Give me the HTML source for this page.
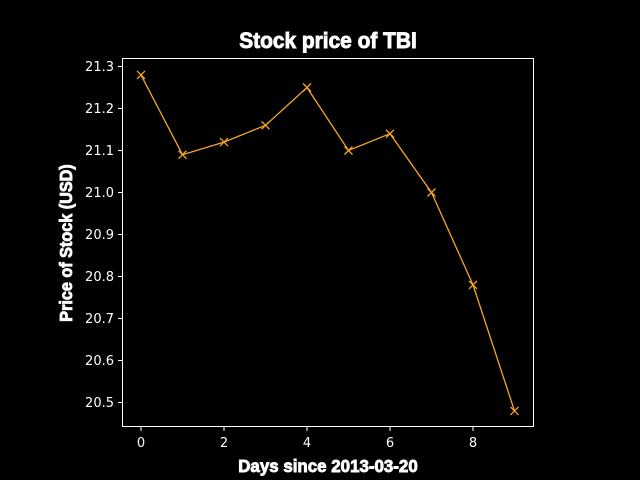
<!DOCTYPE html>
<html><head><meta charset="utf-8"><style>
body{margin:0;background:#000;}
svg{display:block;}
text{font-family:"DejaVu Sans","Liberation Sans",sans-serif;fill:#fff;}
.imp{font-family:"Liberation Sans Narrow","Liberation Sans",sans-serif;font-weight:bold;font-stretch:condensed;stroke:#fff;stroke-width:0.9;}
</style></head><body>
<svg id="chart" width="640" height="480" xmlns="http://www.w3.org/2000/svg">
<rect width="640" height="480" fill="#000"/>
<text class="imp" x="328" y="48" font-size="22" text-anchor="middle" transform="translate(328,0) scale(0.95,1) translate(-328,0)">Stock price of TBI</text>
<text class="imp" x="328" y="472" font-size="18" text-anchor="middle" transform="translate(328,0) scale(0.94,1) translate(-328,0)">Days since 2013-03-20</text>
<text class="imp" x="0" y="0" font-size="18" text-anchor="middle" transform="translate(72,243) rotate(-90) scale(0.9,1)">Price of Stock (USD)</text>
<g id="ticks"></g>
<g id="marks"></g>
<rect x="122.5" y="58.5" width="411" height="368" fill="none" stroke="#fff" stroke-width="1"/>
</svg>
<script>
const days=[0,1,2,3,4,5,6,7,8,9];
const prices=[21.28,21.09,21.12,21.16,21.25,21.10,21.14,21.00,20.78,20.48];
const xTicks=[0,2,4,6,8];
const yTicks=[20.5,20.6,20.7,20.8,20.9,21.0,21.1,21.2,21.3];
const ns="http://www.w3.org/2000/svg";
function xs(v){return 141+v*41.5;}
function ys(v){return 66.5+(21.3-v)*420;}
const tg=document.getElementById('ticks'),mg=document.getElementById('marks');
function mk(tag,attrs,parent){const e=document.createElementNS(ns,tag);for(const k in attrs)e.setAttribute(k,attrs[k]);parent.appendChild(e);return e;}
xTicks.forEach(t=>{
 const l=mk('line',{x1:xs(t),x2:xs(t),y1:426.5,y2:431,stroke:'#fff'},tg);
 
 
 const tx=mk('text',{x:xs(t),y:447,'font-size':13,'text-anchor':'middle'},tg);tx.textContent=t;
 
 
});
yTicks.forEach(t=>{
 const l=mk('line',{x1:118,x2:122.5,y1:ys(t),y2:ys(t),stroke:'#fff'},tg);
 
 
 const tx=mk('text',{x:114,y:ys(t)+4.5,'font-size':13,'text-anchor':'end'},tg);tx.textContent=t.toFixed(1);
 
 
});
const pts=days.map((d,i)=>xs(d)+','+ys(prices[i])).join(' ');
const pl=mk('polyline',{points:pts,fill:'none',stroke:'#f5a623','stroke-width':1.3},mg);


days.forEach((d,i)=>{
 const x=xs(d),y=ys(prices[i]);
 const p=mk('path',{d:`M${x-4},${y-4}L${x+4},${y+4}M${x-4},${y+4}L${x+4},${y-4}`,stroke:'#f5a623','stroke-width':1.3},mg);
 
 
});
</script>
</body></html>
